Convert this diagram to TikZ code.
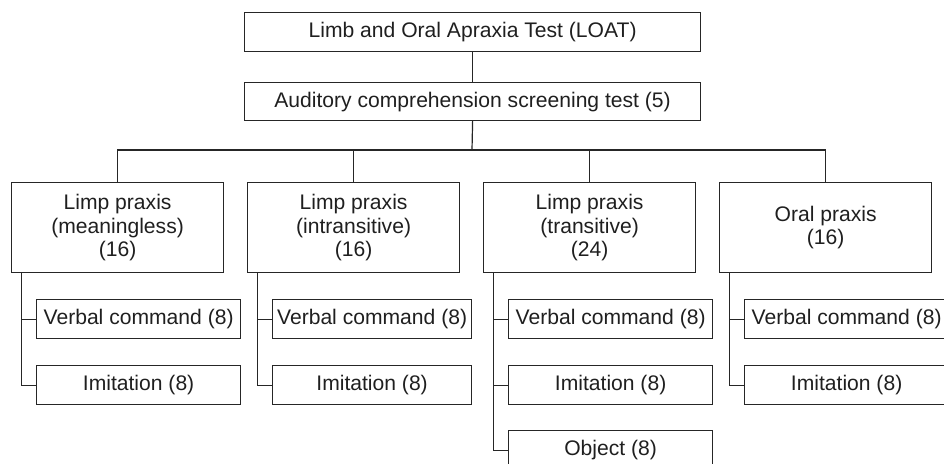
\documentclass[tikz,border=0pt]{standalone}
\usepackage{fontspec}
\setmainfont{Liberation Sans}
\begin{document}
\begin{tikzpicture}[x=1pt,y=-1pt,
  every node/.style={font=\fontsize{21.1}{23.5}\selectfont, text=black!88},
  box/.style={draw=black!85, line width=1.2pt, inner sep=0pt, anchor=north west, align=center},
  topbox/.style={box, minimum width=456, minimum height=39},
  catbox/.style={box, minimum width=212, minimum height=90},
  subbox/.style={box, minimum width=204, minimum height=39},
  link/.style={draw=black!85, line width=1.2pt}]
\useasboundingbox (0,0) rectangle (944,463);
\node[topbox] (loat) at (244,12) {Limb and Oral Apraxia Test (LOAT)};
\node[topbox, minimum height=38] (acs) at (244,82) {Auditory comprehension screening test (5)};
\coordinate (bus) at (472,150);
\node[catbox] (c1) at (11,182) {Limp praxis\\(meaningless)\\(16)};
\node[catbox] (c2) at (247,182) {Limp praxis\\(intransitive)\\(16)};
\node[catbox] (c3) at (483,182) {Limp praxis\\(transitive)\\(24)};
\node[catbox] (c4) at (719,182) {Oral praxis\\(16)};
% children
\node[subbox] (c1v) at (36,299) {Verbal command (8)};
\node[subbox] (c1i) at (36,365) {Imitation (8)};
\node[subbox, minimum width=199] (c2v) at (272,299) {Verbal command (8)};
\node[subbox, minimum width=199] (c2i) at (272,365) {Imitation (8)};
\node[subbox] (c3v) at (508,299) {Verbal command (8)};
\node[subbox] (c3i) at (508,365) {Imitation (8)};
\node[subbox] (c3o) at (508,430) {Object (8)};
\node[subbox] (c4v) at (744,299) {Verbal command (8)};
\node[subbox] (c4i) at (744,365) {Imitation (8)};
% connectors
\draw[link] (loat.south) -- (acs.north);
\draw[link] (acs.south) -- (bus);
\foreach \c in {c1,c2,c3,c4}{\draw[link] (\c.north) |- (bus);}
\draw[link] ([xshift=10.5]c1.south west) |- (c1v.west);
\draw[link] ([xshift=10.5]c1.south west) |- (c1i.west);
\draw[link] ([xshift=10.5]c2.south west) |- (c2v.west);
\draw[link] ([xshift=10.5]c2.south west) |- (c2i.west);
\draw[link] ([xshift=10.5]c3.south west) |- (c3v.west);
\draw[link] ([xshift=10.5]c3.south west) |- (c3i.west);
\draw[link] ([xshift=10.5]c3.south west) |- (c3o.west);
\draw[link] ([xshift=10.5]c4.south west) |- (c4v.west);
\draw[link] ([xshift=10.5]c4.south west) |- (c4i.west);
\end{tikzpicture}
\end{document}
